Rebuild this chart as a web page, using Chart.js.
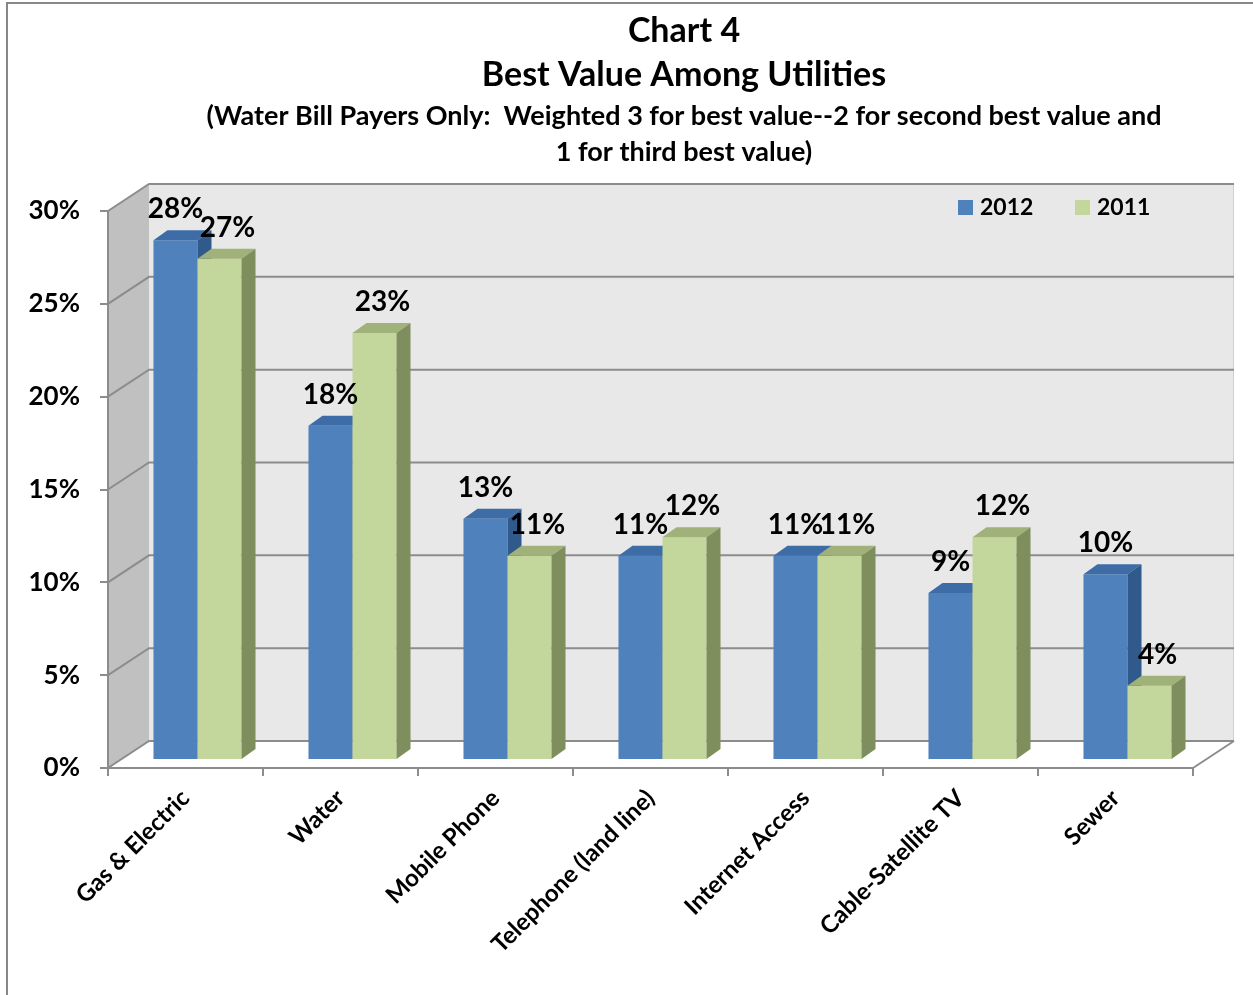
<!DOCTYPE html>
<html>
<head>
<meta charset="utf-8">
<title>Best Value Among Utilities</title>
<script src="https://cdn.jsdelivr.net/npm/chart.js@4/dist/chart.umd.min.js"></script>
<style>
  html, body { margin: 0; padding: 0; background: #fff; }
  #chart4 { display: block; }
</style>
</head>
<body>
<canvas id="chart4" width="1253" height="995"></canvas>
<script>
const categories = ['Gas & Electric', 'Water', 'Mobile Phone', 'Telephone (land line)', 'Internet Access', 'Cable-Satellite TV', 'Sewer'];
const pct2012 = [28, 18, 13, 11, 11, 9, 10];
const pct2011 = [27, 23, 11, 12, 11, 12, 4];
const seriesNames = ['2012', '2011'];
const tickValues = [0, 5, 10, 15, 20, 25, 30];

const titleLines = ['Chart 4', 'Best Value Among Utilities'];
const subtitleLines = [
  '(Water Bill Payers Only:  Weighted 3 for best value--2 for second best value and',
  '1 for third best value)'
];

const FONT = 'Lato, "Open Sans", sans-serif';
const WEIGHT = 'bold';
const WALL_DX = 41, WALL_DY = -27;   // depth of the side wall / floor
const BAR_DX = 12, BAR_DY = -8;      // bars stand a bit behind the front edge
const SIDE_DX = 14, SIDE_DY = -10;   // depth of each bar

const palette = [
  { front: '#4f81bd', top: '#3d6ca6', side: '#2f5a8b' },
  { front: '#c3d69b', top: '#a0b17a', side: '#7e8e5c' }
];
const labelShift = [0, 8];

function font(size) {
  return WEIGHT + ' ' + size + 'px ' + FONT;
}

function poly(ctx, pts) {
  ctx.beginPath();
  pts.forEach((p, i) => i ? ctx.lineTo(p[0], p[1]) : ctx.moveTo(p[0], p[1]));
  ctx.closePath();
}

// frame, side wall, back wall and gridlines behind everything
const walls = {
  id: 'walls',
  beforeDraw(chart) {
    const { ctx } = chart;
    const x = chart.scales.x, y = chart.scales.y;
    const y0 = y.getPixelForValue(0), yTop = y.getPixelForValue(30);
    const bx = x.left + WALL_DX;
    ctx.save();
    ctx.strokeStyle = '#878787';
    ctx.lineWidth = 2;
    ctx.beginPath();
    ctx.moveTo(7, chart.height);
    ctx.lineTo(7, 3);
    ctx.lineTo(chart.width, 3);
    ctx.stroke();

    ctx.fillStyle = '#c0c0c0';
    poly(ctx, [[x.left, y0], [bx, y0 + WALL_DY], [bx, yTop + WALL_DY], [x.left, yTop]]);
    ctx.fill();

    ctx.fillStyle = '#e8e8e8';
    ctx.fillRect(bx, yTop + WALL_DY, x.right - x.left, y0 - yTop);

    ctx.strokeStyle = '#d0d0d0';
    ctx.lineWidth = 1;
    ctx.beginPath();
    ctx.moveTo(x.right + WALL_DX - 0.5, yTop + WALL_DY);
    ctx.lineTo(x.right + WALL_DX - 0.5, y0 + WALL_DY);
    ctx.stroke();

    ctx.strokeStyle = '#8c8c8c';
    ctx.lineWidth = 2;
    tickValues.forEach(v => {
      const yp = y.getPixelForValue(v);
      ctx.beginPath();
      ctx.moveTo(x.left, yp);
      ctx.lineTo(bx, yp + WALL_DY);
      ctx.lineTo(x.right + WALL_DX, yp + WALL_DY);
      ctx.stroke();
    });
    // floor's right edge
    ctx.beginPath();
    ctx.moveTo(x.right, y0);
    ctx.lineTo(x.right + WALL_DX, y0 + WALL_DY);
    ctx.stroke();
    ctx.restore();
  }
};

// bars are drawn here, one series at a time, with a top and a side face
const bars3d = {
  id: 'bars3d',
  beforeDatasetDraw() { return false; },
  afterDatasetsDraw(chart) {
    const ctx = chart.ctx;
    ctx.save();
    ctx.translate(BAR_DX, BAR_DY);
    chart.data.datasets.forEach((ds, i) => {
      const c = palette[i];
      chart.getDatasetMeta(i).data.forEach(bar => {
        bar.draw(ctx);
        const { x, y, base, width } = bar.getProps(['x', 'y', 'base', 'width'], true);
        const l = x - width / 2, r = x + width / 2;
        ctx.fillStyle = c.top;
        poly(ctx, [[l, y], [r, y], [r + SIDE_DX, y + SIDE_DY], [l + SIDE_DX, y + SIDE_DY]]);
        ctx.fill();
        ctx.fillStyle = c.side;
        poly(ctx, [[r, y], [r + SIDE_DX, y + SIDE_DY], [r + SIDE_DX, base + SIDE_DY], [r, base]]);
        ctx.fill();
      });
    });
    ctx.fillStyle = '#000';
    ctx.font = font(28);
    ctx.textAlign = 'center';
    ctx.textBaseline = 'middle';
    chart.data.datasets.forEach((ds, i) => {
      chart.getDatasetMeta(i).data.forEach((bar, j) => {
        ctx.fillText(ds.data[j] + '%', bar.x + labelShift[i], bar.y - 31);
      });
    });
    ctx.restore();
  }
};

// titles and the legend
const captions = {
  id: 'captions',
  afterDraw(chart) {
    const ctx = chart.ctx;
    ctx.save();
    ctx.fillStyle = '#000';
    ctx.textAlign = 'center';
    ctx.textBaseline = 'middle';
    ctx.font = font(34);
    ctx.fillText(titleLines[0], 684, 31);
    ctx.fillText(titleLines[1], 684, 75);
    ctx.font = font(27);
    ctx.fillText(subtitleLines[0], 684, 116);
    ctx.fillText(subtitleLines[1], 684, 152);

    ctx.textAlign = 'left';
    ctx.font = font(23);
    const legendX = [958, 1075];
    seriesNames.forEach((name, i) => {
      ctx.fillStyle = palette[i].front;
      ctx.fillRect(legendX[i], 200, 15, 15);
      ctx.fillStyle = '#000';
      ctx.fillText(name, legendX[i] + 22, 208);
    });
    ctx.restore();
  }
};

new Chart(document.getElementById('chart4'), {
  type: 'bar',
  data: {
    labels: categories,
    datasets: [
      { label: seriesNames[0], data: pct2012, backgroundColor: palette[0].front },
      { label: seriesNames[1], data: pct2011, backgroundColor: palette[1].front }
    ]
  },
  options: {
    responsive: false,
    animation: false,
    events: [],
    categoryPercentage: 0.568,
    barPercentage: 1,
    layout: { padding: { top: 211, right: 60, bottom: 0, left: 0 } },
    plugins: { legend: { display: false }, tooltip: { enabled: false } },
    scales: {
      x: {
        grid: { offset: true, drawOnChartArea: false, tickLength: 8, color: '#8c8c8c', lineWidth: 2 },
        border: { color: '#8c8c8c', width: 2 },
        ticks: { maxRotation: 45, minRotation: 45, autoSkip: false, padding: 8, color: '#000', font: { family: FONT, size: 24, weight: WEIGHT } },
        afterFit(scale) { scale.height = 227; }
      },
      y: {
        min: 0,
        max: 30,
        grid: { drawOnChartArea: false, tickLength: 8, color: '#8c8c8c', lineWidth: 2 },
        border: { color: '#8c8c8c', width: 2 },
        ticks: { stepSize: 5, padding: 20, color: '#000', font: { family: FONT, size: 26, weight: WEIGHT }, callback: v => v + '%' },
        afterFit(scale) { scale.width = 108; }
      }
    }
  },
  plugins: [walls, bars3d, captions]
});
</script>
</body>
</html>
